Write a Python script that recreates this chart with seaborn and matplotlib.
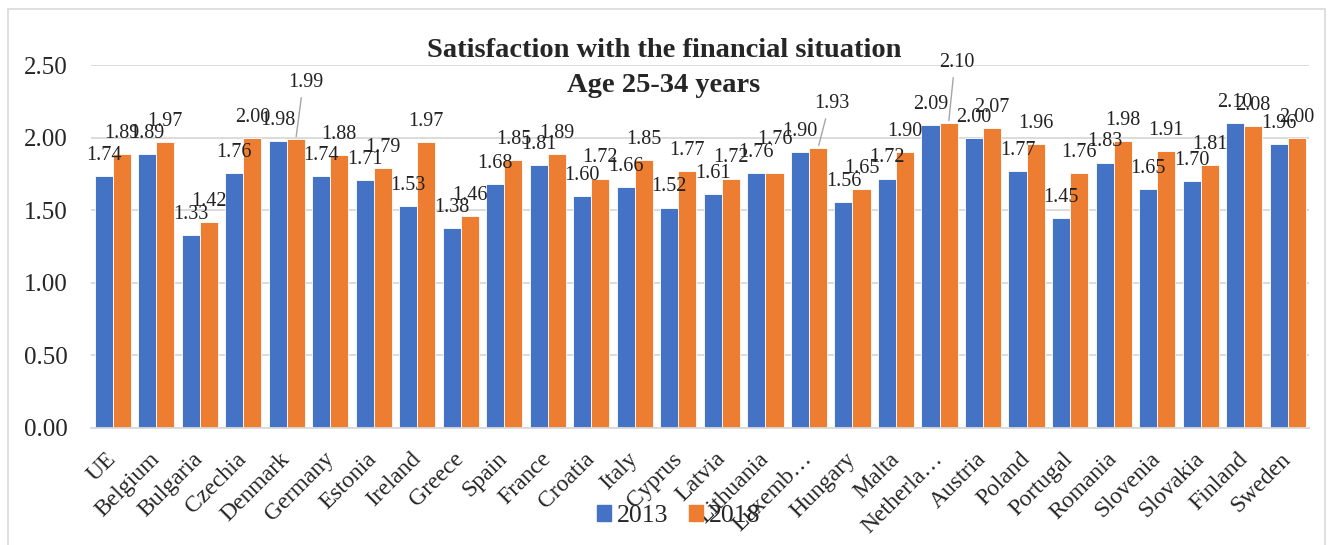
import pandas as pd
import matplotlib
matplotlib.use('Agg')
import matplotlib.pyplot as plt
import matplotlib.patches as mpatches
import seaborn as sns

countries = ['UE', 'Belgium', 'Bulgaria', 'Czechia', 'Denmark', 'Germany', 'Estonia',
             'Ireland', 'Greece', 'Spain', 'France', 'Croatia', 'Italy', 'Cyprus',
             'Latvia', 'Lithuania', 'Luxemb…', 'Hungary', 'Malta', 'Netherla…',
             'Austria', 'Poland', 'Portugal', 'Romania', 'Slovenia', 'Slovakia',
             'Finland', 'Sweden']
vals_2013 = [1.74, 1.89, 1.33, 1.76, 1.98, 1.74, 1.71, 1.53, 1.38, 1.68, 1.81, 1.60,
             1.66, 1.52, 1.61, 1.76, 1.90, 1.56, 1.72, 2.09, 2.00, 1.77, 1.45, 1.83,
             1.65, 1.70, 2.10, 1.96]
vals_2018 = [1.89, 1.97, 1.42, 2.00, 1.99, 1.88, 1.79, 1.97, 1.46, 1.85, 1.89, 1.72,
             1.85, 1.77, 1.72, 1.76, 1.93, 1.65, 1.90, 2.10, 2.07, 1.96, 1.76, 1.98,
             1.91, 1.81, 2.08, 2.00]
years = ['2013', '2018']

# labels that Excel pushed away from the bar (with a leader line): (dx pt, dy pt)
lifted = {('Denmark', '2018'): (7, 26), ('Lithuania', '2018'): (0, 9),
          ('Luxemb…', '2018'): (10, 17), ('Netherla…', '2018'): (6, 29)}

df = pd.DataFrame({
    'Country': countries * 2,
    'Year': ['2013'] * len(countries) + ['2018'] * len(countries),
    'Value': vals_2013 + vals_2018,
})

sns.set_style('white')
plt.rcParams['font.family'] = ['Liberation Serif', 'DejaVu Serif']

colors = {'2013': '#4472C4', '2018': '#ED7D31'}

fig = plt.figure(figsize=(13.28, 5.45), dpi=100)
ax = fig.add_axes([0.0685, 0.2147, 0.9175, 0.6653])

sns.barplot(data=df, x='Country', y='Value', hue='Year', palette=colors,
            width=0.83, saturation=1, edgecolor='white', linewidth=0.6,
            legend=False, ax=ax)

for cont, yr in zip(ax.containers, years):
    for bar, c in zip(cont, countries):
        v = bar.get_height()
        dx, dy = lifted.get((c, yr), (0, 0))
        xc = bar.get_x() + bar.get_width() / 2
        ax.annotate(f'{v:.2f}', (xc, v), xytext=(dx, 8 + dy), textcoords='offset points',
                    ha='center', va='bottom', fontsize=14.5, color='#222222')
        if dy > 10:
            ax.annotate('', (xc, v), xytext=(dx * 0.6, 6 + dy), textcoords='offset points',
                        arrowprops=dict(arrowstyle='-', color='#a6a6a6', lw=1))

ax.set_ylim(0, 2.5)
ax.set_yticks([0, 0.5, 1.0, 1.5, 2.0, 2.5])
ax.set_yticklabels([f'{t:.2f}' for t in ax.get_yticks()], fontsize=18)
ax.set_xlim(-0.5, len(countries) - 0.5)
ax.set_xticks(range(len(countries)))
ax.set_xticklabels(countries, rotation=45, ha='right', va='center',
                   rotation_mode='anchor', fontsize=17)
ax.tick_params(axis='x', pad=20, length=0)
ax.tick_params(axis='y', length=0, pad=17)
ax.set_xlabel('')
ax.set_ylabel('')
ax.yaxis.grid(True, color='#d9d9d9', linewidth=1.3)
ax.set_axisbelow(True)
sns.despine(ax=ax, left=True, top=True, right=True, bottom=False)
ax.spines['bottom'].set_color('#d9d9d9')
ax.spines['bottom'].set_linewidth(1.3)

fig.text(0.5, 0.8954, 'Satisfaction with the financial situation', ha='center',
         va='baseline', fontsize=20.5, fontweight='bold')
fig.text(0.5, 0.8312, 'Age 25-34 years', ha='center', va='baseline',
         fontsize=20.5, fontweight='bold')

handles = [mpatches.Patch(color=colors[y], label=y) for y in years]
fig.legend(handles=handles, loc='center', bbox_to_anchor=(0.511, 0.053), ncol=2,
           frameon=False, fontsize=18.5, handlelength=0.55, handleheight=0.55,
           handletextpad=0.23, columnspacing=0.78, borderpad=0)

fig.add_artist(mpatches.Rectangle((0.006, -0.01), 0.992, 0.993, transform=fig.transFigure,
                                  fill=False, edgecolor='#d9d9d9', linewidth=1.2))

fig.savefig('out.png', dpi=100)
